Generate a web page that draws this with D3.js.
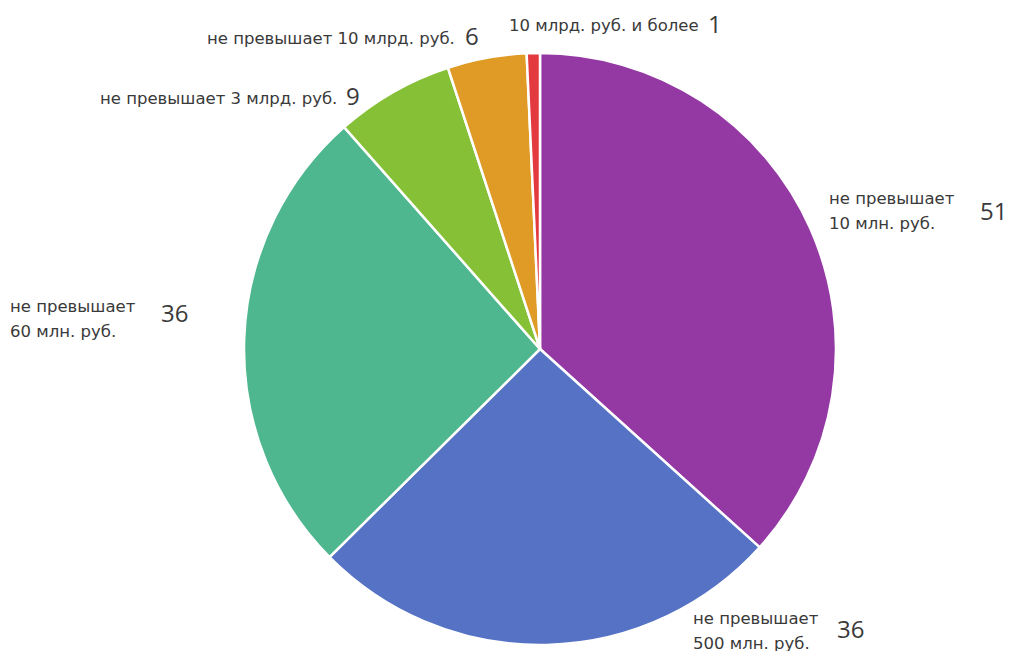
<!DOCTYPE html>
<html>
<head>
<meta charset="utf-8">
<script src="https://cdn.jsdelivr.net/npm/d3@7"></script>
<style>
  body { margin: 0; background: #fff; }
  svg { display: block; }
  .lbl { font-family: "DejaVu Sans", sans-serif; font-size: 16.5px; fill: #3a3a3a; }
  .num { font-family: "Open Sans", sans-serif; font-size: 24px; fill: #3a3a3a; }
</style>
</head>
<body>
<div id="chart"></div>
<script>
var width = 1009;
var height = 651;

// data, clockwise from 12 o'clock
var categories = [
	["не превышает", "10 млн. руб."],
	["не превышает", "500 млн. руб."],
	["не превышает", "60 млн. руб."],
	["не превышает 3 млрд. руб."],
	["не превышает 10 млрд. руб."],
	["10 млрд. руб. и более"]
];
var values = [51, 36, 36, 9, 6, 1];
var colors = ["#9439a3", "#5572c4", "#4fb78f", "#86c036", "#e09a26", "#e23a3e"];

// where each label sits (text x, first baseline y, number x, number baseline)
var labelPos = [
	{ x: 829, y: 204, nx: 980, ny: 220 },
	{ x: 693, y: 624, nx: 837, ny: 638 },
	{ x: 10,  y: 312, nx: 161, ny: 322 },
	{ x: 100, y: 104, nx: 346, ny: 105 },
	{ x: 207, y: 44,  nx: 465, ny: 45 },
	{ x: 509, y: 31,  nx: 708, ny: 33 }
];

var cx = 540, cy = 349, radius = 296;

var svg = d3.select("#chart")
	.append("svg")
	.attr("width", width)
	.attr("height", height);

var pie = d3.pie().sort(null).value(function(d) { return d; });
var arc = d3.arc().innerRadius(0).outerRadius(radius);

var g = svg.append("g").attr("transform", "translate(" + cx + "," + cy + ")");

g.selectAll(".slice")
	.data(pie(values))
	.enter().append("path")
	.attr("class", "slice")
	.attr("d", arc)
	.style("fill", function(d, i) { return colors[i]; })
	.style("stroke", "#fff")
	.style("stroke-width", 2.5);

// labels
var labels = svg.selectAll(".label")
	.data(categories)
	.enter().append("g")
	.attr("class", "label");

labels.each(function(lines, i) {
	var p = labelPos[i];
	var sel = d3.select(this);
	var t = sel.append("text").attr("class", "lbl");
	lines.forEach(function(line, k) {
		t.append("tspan").attr("x", p.x).attr("y", p.y + k * 25).text(line);
	});
	sel.append("text")
		.attr("class", "num")
		.attr("x", p.nx)
		.attr("y", p.ny)
		.text(values[i]);
});
</script>
</body>
</html>
